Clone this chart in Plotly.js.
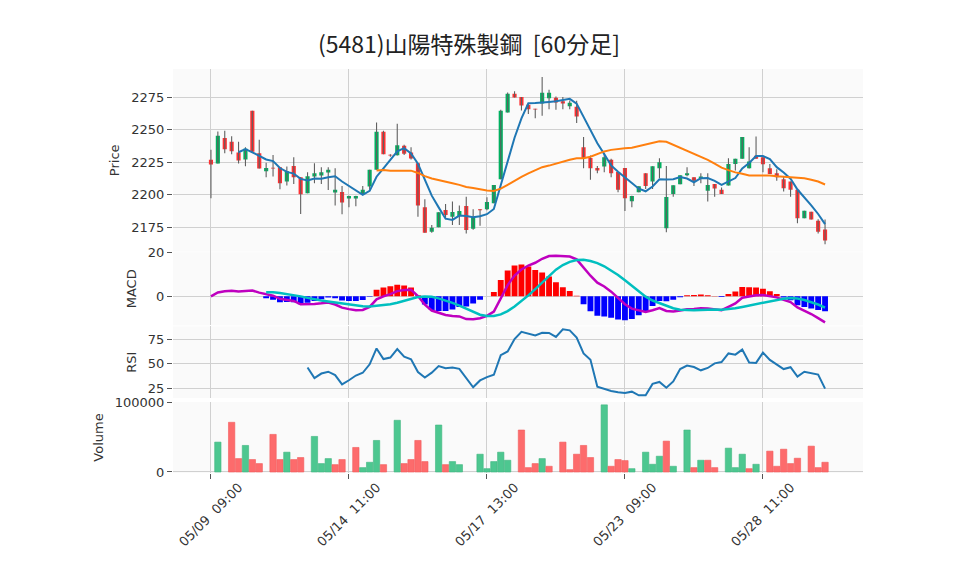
<!DOCTYPE html>
<html><head><meta charset="utf-8">
<script src="https://cdn.plot.ly/plotly-3.0.1.min.js"></script>
<style>html,body{margin:0;padding:0;background:#fff}</style>
</head><body><div id="chart" style="width:958px;height:575px"></div>
<script>
// ---- data (60-minute bars, 05/09 09:00 .. 05/29 14:00) ----
const chartTitle = "(5481)山陽特殊製鋼\u00a0\u00a0[60分足]";
const tickIndex = [0, 20, 40, 60, 80];
const tickLabels = ["05/09\u00a0\u00a009:00", "05/14\u00a0\u00a011:00", "05/17\u00a0\u00a013:00", "05/23\u00a0\u00a009:00", "05/28\u00a0\u00a011:00"];
const volumeTicks = [0, 100000];
const volumeTickLabels = ["0", "100000"];

const openP = [2226.7,2223.9,2243.6,2240.6,2232.3,2226.9,2264.5,2231.8,2218.0,2220.5,
  2221.0,2210.0,2222.0,2213.3,2201.0,2213.8,2214.6,2217.0,2201.5,2202.0,
  2196.9,2196.9,2200.5,2206.1,2219.0,2248.3,2230.5,2230.3,2237.5,2232.3,
  2224.1,2190.2,2171.4,2174.8,2188.1,2183.0,2183.5,2191.2,2173.7,2188.3,
  2188.6,2193.3,2211.8,2263.2,2277.6,2275.0,2269.1,2266.0,2270.1,2274.0,
  2274.5,2271.7,2268.0,2267.5,2236.4,2228.2,2220.5,2221.5,2226.7,2217.4,
  2220.5,2194.8,2201.8,2216.4,2210.0,2220.3,2174.0,2200.5,2207.9,2214.9,
  2213.3,2212.3,2203.0,2208.2,2203.6,2206.9,2223.6,2227.5,2220.3,2229.8,
  2228.7,2220.3,2216.4,2211.8,2210.0,2203.6,2181.7,2186.8,2179.9,2173.2];
const highP = [2234.4,2248.5,2249.0,2244.9,2240.6,2236.4,2264.5,2242.1,2224.4,2230.5,
  2221.0,2221.5,2228.7,2213.3,2217.2,2224.1,2221.0,2221.0,2220.3,2206.6,
  2199.0,2199.0,2206.6,2219.0,2255.5,2249.0,2231.0,2254.4,2238.3,2236.4,
  2224.1,2196.4,2176.6,2186.3,2192.8,2194.6,2191.5,2198.4,2188.6,2188.6,
  2197.9,2207.4,2265.2,2278.6,2279.4,2275.0,2270.0,2266.0,2290.4,2280.7,
  2275.5,2275.0,2272.4,2272.2,2244.2,2230.0,2222.0,2231.8,2227.5,2217.4,
  2220.5,2199.0,2206.4,2216.4,2221.8,2228.0,2222.0,2207.2,2214.9,2221.0,
  2213.3,2216.4,2216.4,2208.2,2205.4,2228.0,2227.5,2244.2,2236.4,2244.7,
  2228.7,2223.6,2219.5,2213.8,2210.0,2203.6,2187.6,2186.8,2181.0,2180.9];
const lowP = [2197.1,2223.9,2231.8,2231.0,2223.9,2221.8,2232.9,2220.0,2213.3,2213.8,
  2204.0,2207.0,2208.2,2185.0,2201.0,2208.7,2208.2,2203.5,2191.5,2184.8,
  2190.2,2191.0,2200.0,2203.6,2219.0,2231.0,2229.0,2230.0,2230.5,2227.0,
  2183.0,2170.7,2170.7,2174.8,2181.0,2176.6,2176.6,2170.1,2173.0,2176.0,
  2188.0,2193.3,2211.8,2263.2,2274.7,2264.7,2261.9,2258.8,2260.6,2265.7,
  2265.2,2265.7,2265.7,2255.0,2220.3,2211.3,2216.4,2217.2,2213.3,2201.8,
  2187.4,2190.2,2201.8,2204.3,2204.3,2212.5,2171.0,2198.4,2207.9,2214.0,
  2206.6,2208.7,2194.6,2198.4,2200.5,2206.9,2218.5,2227.5,2220.0,2227.5,
  2217.2,2215.9,2210.7,2202.3,2198.4,2177.9,2181.7,2180.9,2170.1,2161.7];
const closeP = [2223.1,2245.2,2234.9,2233.4,2226.2,2235.2,2232.9,2220.0,2220.5,2220.0,
  2208.7,2218.0,2213.3,2200.2,2214.1,2216.4,2217.2,2219.0,2203.6,2193.8,
  2198.9,2198.9,2203.6,2219.0,2248.3,2231.0,2230.0,2238.0,2231.3,2227.7,
  2191.5,2170.7,2174.5,2186.3,2184.3,2186.6,2187.4,2172.7,2182.0,2188.0,
  2194.3,2207.4,2264.5,2277.6,2274.7,2268.6,2265.7,2265.5,2278.3,2278.3,
  2270.9,2270.1,2270.6,2260.0,2228.0,2220.3,2218.5,2228.7,2216.4,2203.6,
  2197.1,2198.9,2206.4,2206.6,2221.8,2224.9,2198.2,2207.2,2214.9,2216.4,
  2210.7,2213.8,2207.4,2204.6,2200.5,2223.6,2227.5,2244.2,2225.4,2227.5,
  2223.3,2215.9,2213.3,2204.8,2203.6,2181.7,2187.6,2180.9,2171.4,2164.7];
const volume = [0,43000,0,71500,19300,38200,17900,12100,0,54100,
  17900,28500,17900,20800,0,51200,12100,19300,10600,17900,
  0,35300,6300,14000,45400,10600,0,74400,12100,17900,
  45400,15000,0,67600,10600,15000,10600,0,0,25600,
  4800,15000,28500,16900,0,60400,6300,12100,19300,8200,
  0,43000,3400,25600,38200,20800,0,96600,8200,17900,
  16400,4800,0,28500,11100,22700,44400,8200,0,60400,
  6300,16900,16900,6300,0,34300,6300,25600,4800,11100,
  0,30000,8200,32800,12100,19800,0,37200,6300,14000];
// volume bar direction as seen in the picture: 1 = up (green), -1 = down (red), 0 = no bar
const volumeDir = [0,1,0,-1,-1,1,-1,-1,0,-1,
  -1,1,-1,-1,0,1,1,1,-1,-1,
  0,-1,1,1,1,-1,0,1,-1,-1,
  -1,-1,0,1,-1,1,1,0,0,1,
  1,1,1,1,0,-1,-1,-1,1,-1,
  0,-1,-1,-1,-1,-1,0,1,-1,-1,
  -1,1,0,1,1,1,-1,1,0,1,
  -1,1,-1,-1,0,1,1,1,-1,1,
  0,-1,-1,-1,-1,-1,0,-1,-1,-1];

// ---- indicators derived from the closes ----
const n = closeP.length;
const idx = closeP.map((_, i) => i);
function sma(arr, p) {
  return arr.map((_, i) => {
    if (i < p - 1) return null;
    let s = 0, k = 0;
    for (let j = i - p + 1; j <= i; j++) { if (arr[j] == null) return null; s += arr[j]; k++; }
    return s / k;
  });
}
function ema(arr, span) {
  const a = 2 / (span + 1); const out = []; let prev = arr[0];
  arr.forEach((v, i) => { prev = i === 0 ? v : prev + a * (v - prev); out.push(prev); });
  return out;
}
const ma5 = sma(closeP, 5);
const ma25 = sma(closeP, 25);
const ema12 = ema(closeP, 12), ema26 = ema(closeP, 26);
const macd = closeP.map((_, i) => ema12[i] - ema26[i]);
const signal = sma(macd, 9);
const hist = macd.map((v, i) => signal[i] == null ? null : v - signal[i]);
const gains = closeP.map((v, i) => i === 0 ? null : Math.max(v - closeP[i - 1], 0));
const losses = closeP.map((v, i) => i === 0 ? null : Math.max(closeP[i - 1] - v, 0));
const rsi = idx.map(i => {
  if (i < 14) return null;
  let g = 0, l = 0;
  for (let j = i - 13; j <= i; j++) { g += gains[j]; l += losses[j]; }
  return l === 0 ? 100 : 100 - 100 / (1 + g / l);
});

const UP = '#00b060', DOWN = '#fe3032', WICK = '#606060';
const VUP = '#4dc790', VDOWN = '#fd6b6c';

// wick segments
const wx = [], wy = [];
idx.forEach(i => { wx.push(i, i, null); wy.push(lowP[i], highP[i], null); });

const traces = [
  {type:'scatter', mode:'lines', x:wx, y:wy, xaxis:'x', yaxis:'y', line:{color:WICK, width:1.1}, hoverinfo:'skip'},
  {type:'bar', x:idx, base:idx.map(i => Math.min(openP[i], closeP[i])),
   y:idx.map(i => Math.max(Math.abs(closeP[i] - openP[i]), 0.6)), width:0.6,
   marker:{color:idx.map(i => closeP[i] >= openP[i] ? UP : DOWN), line:{width:0}}, xaxis:'x', yaxis:'y'},
  {type:'scatter', mode:'lines', x:idx, y:ma5, line:{color:'#1f77b4', width:2}, xaxis:'x', yaxis:'y'},
  {type:'scatter', mode:'lines', x:idx, y:ma25, line:{color:'#ff7f0e', width:2}, xaxis:'x', yaxis:'y'},
  {type:'bar', x:idx, y:hist, width:0.85, marker:{color:hist.map(v => v == null ? 'rgba(0,0,0,0)' : (v >= 0 ? 'red' : 'blue')), line:{width:0}}, xaxis:'x2', yaxis:'y2'},
  {type:'scatter', mode:'lines', x:idx, y:macd, line:{color:'#bf00bf', width:2.5}, xaxis:'x2', yaxis:'y2'},
  {type:'scatter', mode:'lines', x:idx, y:signal, line:{color:'#00bfbf', width:2.5}, xaxis:'x2', yaxis:'y2'},
  {type:'scatter', mode:'lines', x:idx, y:rsi, line:{color:'#1f77b4', width:2}, xaxis:'x3', yaxis:'y3'},
  {type:'bar', x:idx, y:volume.map((v, i) => volumeDir[i] === 0 ? null : v), width:0.92,
   marker:{color:volumeDir.map(d => d > 0 ? VUP : VDOWN), line:{color:volumeDir.map(d => d > 0 ? '#3fb57f' : '#f25a5b'), width:0.6}},
   xaxis:'x4', yaxis:'y4'}
];

const GRID = '#d0d0d0';
function xax(anchor) {
  return {domain:[0,1], anchor:anchor, range:[-5.5, 94.5], tickmode:'array', tickvals:tickIndex,
    showticklabels:false, ticks:'', gridcolor:GRID, gridwidth:1, zeroline:false, showline:false, fixedrange:true};
}
function yax(domain, range, dtick, title) {
  return {domain:domain, range:range, tickmode:'linear', tick0:0, dtick:dtick, anchor:'x',
    ticks:'outside', ticklen:5, tickcolor:'#555', tickwidth:1, gridcolor:GRID, gridwidth:1,
    zeroline:false, showline:false, tickfont:{size:13, color:'#333'},
    title:{text:title, font:{size:13, color:'#333'}, standoff:8}};
}
const layout = {
  width:958, height:575,
  margin:{l:173, r:95, t:69, b:102},
  paper_bgcolor:'#ffffff', plot_bgcolor:'#fafafa',
  font:{family:'DejaVu Sans', size:13, color:'#333'},
  title:{text:chartTitle, font:{family:'Noto Sans CJK JP', size:23, color:'#222'},
    xref:'container', x:0.4895, xanchor:'center', yref:'container', y:0.922, yanchor:'middle'},
  showlegend:false, bargap:0.1, barmode:'overlay',
  xaxis:xax('y'), xaxis2:Object.assign(xax('y2'), {matches:'x'}),
  xaxis3:Object.assign(xax('y3'), {matches:'x'}),
  xaxis4:Object.assign(xax('y4'), {matches:'x', ticks:'outside', ticklen:5, tickcolor:'#555'}),
  yaxis:Object.assign(yax([0.548, 1], [2156.1, 2296.6], 25, 'Price'), {anchor:'x'}),
  yaxis2:Object.assign(yax([0.3654, 0.5464], [-13.2, 20.05], 20, 'MACD'), {anchor:'x2'}),
  yaxis3:Object.assign(yax([0.1854, 0.3629], [15.0, 88.3], 25, 'RSI'), {anchor:'x3'}),
  yaxis4:Object.assign(yax([0, 0.176], [-1440, 100860], 100000, 'Volume'),
    {anchor:'x4', tickmode:'array', tickvals:volumeTicks, ticktext:volumeTickLabels}),
  annotations: tickIndex.map((t, k) => ({text:tickLabels[k], xref:'x4', x:t, yref:'paper', y:-0.1024,
    xanchor:'center', yanchor:'middle', textangle:-45, showarrow:false, font:{size:13, color:'#333'}}))
};
Plotly.newPlot('chart', traces, layout, {staticPlot:true, displayModeBar:false});
</script></body></html>
